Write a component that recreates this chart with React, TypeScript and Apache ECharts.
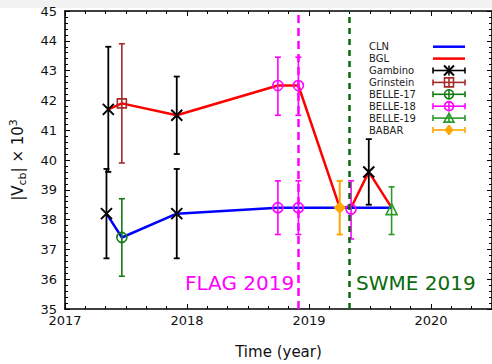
import React, { useEffect, useRef } from "react";
import * as echarts from "echarts";

// ---- data ----
const clnX = [2017.34, 2017.466, 2017.916, 2018.745, 2018.913, 2019.252, 2019.345, 2019.677];
const clnY = [38.2, 37.4, 38.2, 38.4, 38.4, 38.4, 38.4, 38.4];
const bglX = [2017.355, 2017.466, 2017.916, 2018.745, 2018.913, 2019.252, 2019.345, 2019.49, 2019.677];
const bglY = [41.7, 41.9, 41.5, 42.5, 42.5, 38.4, 38.4, 39.6, 38.4];

const gambinoX = [2017.355, 2017.34, 2017.916, 2017.916, 2019.49];
const gambinoY = [41.7, 38.2, 41.5, 38.2, 39.6];
const gambinoLo = [39.6, 36.7, 40.2, 36.7, 38.5];
const gambinoHi = [43.8, 39.7, 42.8, 39.7, 40.7];

const grinsteinX = [2017.466];
const grinsteinY = [41.9];
const grinsteinLo = [39.9];
const grinsteinHi = [43.9];

const belle17X = [2017.466];
const belle17Y = [37.4];
const belle17Lo = [36.1];
const belle17Hi = [38.7];

const belle18X = [2018.745, 2018.913, 2018.745, 2018.913, 2019.345];
const belle18Y = [42.5, 42.5, 38.4, 38.4, 38.35];
const belle18Lo = [41.5, 41.5, 37.5, 37.5, 37.35];
const belle18Hi = [43.45, 43.45, 39.3, 39.3, 39.3];

const belle19X = [2019.677];
const belle19Y = [38.35];
const belle19Lo = [37.5];
const belle19Hi = [39.1];

const babarX = [2019.252];
const babarY = [38.4];
const babarLo = [37.5];
const babarHi = [39.3];

const flagX = 2018.91;
const swmeX = 2019.333;

const xTickYears = [2017, 2018, 2019, 2020];

const legendNames = ["CLN", "BGL", "Gambino", "Grinstein", "BELLE-17", "BELLE-18", "BELLE-19", "BABAR"];
const legendKinds = ["line", "line", "x", "square", "circle", "circle", "triangle", "diamond"];

const C = {
  cln: "#0000ff",
  bgl: "#ff0000",
  gambino: "#000000",
  grinstein: "#a52a2a",
  belle17: "#127a12",
  belle18: "#ff00ff",
  belle19: "#2a9a2a",
  babar: "#ffa500",
  flag: "#ff00ff",
  swme: "#0a6a0a",
};
const legendColors = [C.cln, C.bgl, C.gambino, C.grinstein, C.belle17, C.belle18, C.belle19, C.babar];

const FONT = "DejaVu Sans";

function errSeries(name: string, xs: number[], lo: number[], hi: number[], color: string, width = 1.6) {
  return {
    type: "custom",
    name,
    silent: true,
    z: 3,
    data: xs.map((x, i) => [x, lo[i], hi[i]]),
    encode: { x: 0, y: [1, 2] },
    renderItem: (params: any, api: any) => {
      const x = api.value(0);
      const p1 = api.coord([x, api.value(1)]);
      const p2 = api.coord([x, api.value(2)]);
      const cap = 3;
      const st = { stroke: color, lineWidth: width };
      return {
        type: "group",
        children: [
          { type: "line", shape: { x1: p1[0], y1: p1[1], x2: p2[0], y2: p2[1] }, style: st },
          { type: "line", shape: { x1: p1[0] - cap, y1: p1[1], x2: p1[0] + cap, y2: p1[1] }, style: st },
          { type: "line", shape: { x1: p2[0] - cap, y1: p2[1], x2: p2[0] + cap, y2: p2[1] }, style: st },
        ],
      };
    },
  };
}

function markSeries(name: string, xs: number[], ys: number[], symbol: string, size: number, color: string, fill: string, bw = 1.6) {
  return {
    type: "scatter",
    name,
    silent: true,
    z: 4,
    data: xs.map((x, i) => [x, ys[i]]),
    symbol,
    symbolSize: size,
    itemStyle: { color: fill, borderColor: color, borderWidth: bw, opacity: 1 },
  };
}

const XPATH = "path://M0 0L10 10M10 0L0 10";

function legendGraphics() {
  const els: any[] = [];
  const tx = 369;
  const x1 = 433;
  const x2 = 465;
  const xm = 449;
  legendNames.forEach((nm, i) => {
    const y = 46.7 + i * 11.9;
    const col = legendColors[i];
    const kind = legendKinds[i];
    els.push({
      type: "text",
      x: tx,
      y,
      style: { text: nm, fill: "#222", font: `10px '${FONT}'`, textVerticalAlign: "middle", verticalAlign: "middle" },
    });
    if (kind === "line") {
      els.push({ type: "line", shape: { x1, y1: y, x2, y2: y }, style: { stroke: col, lineWidth: 2.5 } });
      return;
    }
    const st = { stroke: col, lineWidth: 1.6, fill: "none" };
    els.push({ type: "line", shape: { x1, y1: y, x2, y2: y }, style: st });
    els.push({ type: "line", shape: { x1, y1: y - 3, x2: x1, y2: y + 3 }, style: st });
    els.push({ type: "line", shape: { x1: x2, y1: y - 3, x2, y2: y + 3 }, style: st });
    els.push({ type: "line", shape: { x1: xm, y1: y - 5, x2: xm, y2: y + 5 }, style: st });
    if (kind === "x") {
      els.push({ type: "line", shape: { x1: xm - 5, y1: y - 5, x2: xm + 5, y2: y + 5 }, style: { stroke: col, lineWidth: 2 } });
      els.push({ type: "line", shape: { x1: xm - 5, y1: y + 5, x2: xm + 5, y2: y - 5 }, style: { stroke: col, lineWidth: 2 } });
    } else if (kind === "square") {
      els.push({ type: "rect", shape: { x: xm - 4.5, y: y - 4.5, width: 9, height: 9 }, style: st });
    } else if (kind === "circle") {
      els.push({ type: "circle", shape: { cx: xm, cy: y, r: 4.5 }, style: st });
    } else if (kind === "triangle") {
      els.push({ type: "polygon", shape: { points: [[xm, y - 5], [xm + 5, y + 4], [xm - 5, y + 4]] }, style: st });
    } else if (kind === "diamond") {
      els.push({ type: "polygon", shape: { points: [[xm, y - 5], [xm + 4, y], [xm, y + 5], [xm - 4, y]] }, style: { fill: col, stroke: col, lineWidth: 1 } });
    }
  });
  return els;
}

export default function App() {
  const ref = useRef<HTMLDivElement>(null);
  useEffect(() => {
    document.body.style.margin = "0";
    if (!ref.current) return;
    const chart = echarts.init(ref.current, undefined, { renderer: "svg" });
    const axisLine = { show: true, lineStyle: { color: "#000", width: 1.6 } };
    const xCommon = {
      type: "value",
      min: 2017,
      max: 2020.5,
      interval: 1,
      axisLine,
      axisTick: { show: true, inside: true, length: 5, lineStyle: { color: "#000", width: 1 } },
      minorTick: { show: true, splitNumber: 6, length: 3, lineStyle: { color: "#000", width: 1 } },
      splitLine: { show: false },
      minorSplitLine: { show: false },
    };
    const yCommon = {
      type: "value",
      min: 35,
      max: 45,
      interval: 1,
      axisLine,
      axisTick: { show: true, inside: true, length: 5, lineStyle: { color: "#000", width: 1 } },
      minorTick: { show: true, splitNumber: 5, length: 3, lineStyle: { color: "#000", width: 1 } },
      splitLine: { show: false },
      minorSplitLine: { show: false },
    };
    const option: any = {
      animation: false,
      backgroundColor: "#ffffff",
      textStyle: { fontFamily: FONT },
      grid: { left: 63, top: 11, width: 431, height: 301, containLabel: false },
      xAxis: [
        {
          ...xCommon,
          position: "bottom",
          axisLabel: {
            show: true,
            fontSize: 13,
            color: "#111",
            fontFamily: FONT,
            margin: 5,
            showMaxLabel: false,
            formatter: (v: number) => (xTickYears.indexOf(v) >= 0 ? String(v) : ""),
          },
          name: "Time (year)",
          nameLocation: "middle",
          nameGap: 35,
          nameTextStyle: { fontSize: 15, color: "#111", fontFamily: FONT },
        },
        { ...xCommon, position: "top", axisLabel: { show: false } },
      ],
      yAxis: [
        {
          ...yCommon,
          position: "left",
          axisLabel: { show: true, fontSize: 13, color: "#111", fontFamily: FONT, margin: 8 },
          name: "{a||V}{b|cb}{a|| × 10}{c|3}",
          nameLocation: "middle",
          nameRotate: 90,
          nameGap: 37,
          nameTextStyle: {
            color: "#111",
            fontFamily: FONT,
            rich: {
              a: { fontSize: 15, fontFamily: FONT, color: "#111", lineHeight: 20, verticalAlign: "middle" },
              b: { fontSize: 11, fontFamily: FONT, color: "#111", lineHeight: 20, verticalAlign: "bottom" },
              c: { fontSize: 11, fontFamily: FONT, color: "#111", lineHeight: 20, verticalAlign: "top" },
            },
          },
        },
        { ...yCommon, position: "right", axisLabel: { show: false } },
      ],
      graphic: [
        { type: "rect", shape: { x: 0, y: 0, width: 492, height: 8 }, style: { fill: "#f2f2f2" }, z: 0 },
        {
          type: "text",
          x: 185,
          y: 283,
          style: { text: "FLAG 2019", fill: C.flag, font: `20px '${FONT}'`, textVerticalAlign: "middle", verticalAlign: "middle" },
        },
        {
          type: "text",
          x: 356,
          y: 283,
          style: { text: "SWME 2019", fill: C.swme, font: `20px '${FONT}'`, textVerticalAlign: "middle", verticalAlign: "middle" },
        },
        ...legendGraphics(),
      ],
      series: [
        {
          type: "line",
          name: "BGL",
          data: bglX.map((x, i) => [x, bglY[i]]),
          symbol: "none",
          showSymbol: false,
          silent: true,
          z: 2,
          lineStyle: { color: C.bgl, width: 2.5 },
          markLine: {
            symbol: "none",
            silent: true,
            label: { show: false },
            data: [
              { xAxis: flagX, lineStyle: { color: C.flag, type: [8, 5], width: 2.5 } },
              { xAxis: swmeX, lineStyle: { color: C.swme, type: [6, 5], width: 2.5 } },
            ],
          },
        },
        {
          type: "line",
          name: "CLN",
          data: clnX.map((x, i) => [x, clnY[i]]),
          symbol: "none",
          showSymbol: false,
          silent: true,
          z: 2,
          lineStyle: { color: C.cln, width: 2.5 },
        },
        errSeries("Gambino-err", gambinoX, gambinoLo, gambinoHi, C.gambino, 1.8),
        errSeries("Grinstein-err", grinsteinX, grinsteinLo, grinsteinHi, C.grinstein),
        errSeries("BELLE-17-err", belle17X, belle17Lo, belle17Hi, C.belle17),
        errSeries("BELLE-18-err", belle18X, belle18Lo, belle18Hi, C.belle18),
        errSeries("BELLE-19-err", belle19X, belle19Lo, belle19Hi, C.belle19),
        errSeries("BABAR-err", babarX, babarLo, babarHi, C.babar, 2),
        markSeries("Gambino", gambinoX, gambinoY, XPATH, 11, C.gambino, C.gambino, 2),
        markSeries("Grinstein", grinsteinX, grinsteinY, "rect", 9, C.grinstein, "transparent"),
        markSeries("BELLE-17", belle17X, belle17Y, "circle", 10, C.belle17, "transparent"),
        markSeries("BELLE-18", belle18X, belle18Y, "circle", 10, C.belle18, "transparent"),
        markSeries("BELLE-19", belle19X, belle19Y, "triangle", 11, C.belle19, "transparent"),
        markSeries("BABAR", babarX, babarY, "diamond", 10, C.babar, C.babar),
      ],
    };
    chart.setOption(option);
    return () => chart.dispose();
  }, []);
  return <div ref={ref} style={{ width: 492, height: 364 }} />;
}
